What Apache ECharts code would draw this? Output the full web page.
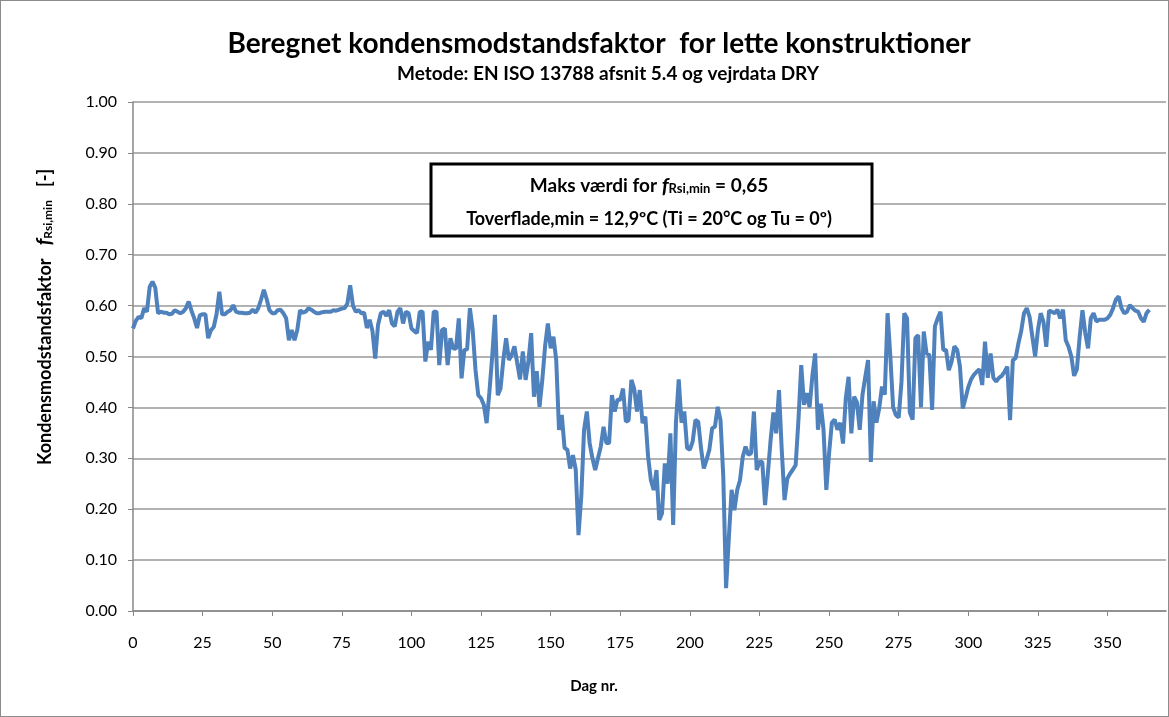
<!DOCTYPE html>
<html>
<head>
<meta charset="utf-8">
<script src="https://cdn.jsdelivr.net/npm/echarts@6/dist/echarts.min.js"></script>
<style>
  html, body { margin: 0; padding: 0; background: #fff; }
  #chart { width: 1167px; height: 715px; border: 1px solid #8c8c8c; }
</style>
</head>
<body>
<div id="chart"></div>
<script>
// daily values, day 0 .. 365
const values = [
  0.555, 0.57, 0.578, 0.575, 0.595, 0.588, 0.637, 0.647, 0.635, 0.585,
  0.588, 0.586, 0.586, 0.583, 0.584, 0.591, 0.588, 0.585, 0.588, 0.595,
  0.608, 0.59, 0.575, 0.556, 0.581, 0.583, 0.583, 0.536, 0.552, 0.558,
  0.583, 0.627, 0.583, 0.583, 0.588, 0.591, 0.601, 0.588, 0.586, 0.586,
  0.585, 0.585, 0.586, 0.592, 0.586, 0.595, 0.612, 0.631, 0.613, 0.591,
  0.585, 0.585, 0.591, 0.592, 0.585, 0.575, 0.532, 0.552, 0.532, 0.552,
  0.591, 0.586, 0.588, 0.595, 0.592, 0.588, 0.585, 0.585, 0.587, 0.588,
  0.588, 0.588, 0.591, 0.59, 0.592, 0.594, 0.595, 0.604, 0.64, 0.6,
  0.588, 0.591, 0.585, 0.586, 0.556, 0.572, 0.55, 0.496, 0.562, 0.585,
  0.588, 0.58, 0.591, 0.565, 0.559, 0.588, 0.595, 0.565, 0.588, 0.585,
  0.555, 0.55, 0.546, 0.588, 0.588, 0.49, 0.529, 0.513, 0.588, 0.588,
  0.483, 0.552, 0.555, 0.483, 0.536, 0.516, 0.515, 0.575, 0.457, 0.513,
  0.514, 0.595, 0.552, 0.474, 0.424, 0.418, 0.405, 0.369, 0.43, 0.5,
  0.582, 0.424, 0.437, 0.493, 0.536, 0.493, 0.503, 0.52, 0.487, 0.455,
  0.51, 0.454, 0.49, 0.546, 0.421, 0.471, 0.401, 0.454, 0.52, 0.565,
  0.516, 0.539, 0.493, 0.356, 0.385, 0.32, 0.317, 0.28, 0.306, 0.278,
  0.149, 0.225, 0.356, 0.392, 0.33, 0.3, 0.277, 0.3, 0.323, 0.362,
  0.33, 0.33, 0.424, 0.392, 0.415, 0.415, 0.437, 0.372, 0.375, 0.454,
  0.437, 0.392, 0.434, 0.369, 0.382, 0.303, 0.257, 0.238, 0.277, 0.179,
  0.192, 0.29, 0.25, 0.349, 0.169, 0.37, 0.455, 0.37, 0.392, 0.32,
  0.317, 0.333, 0.375, 0.372, 0.32, 0.28, 0.297, 0.317, 0.359, 0.362,
  0.401, 0.375, 0.264, 0.045, 0.144, 0.238, 0.198, 0.238, 0.257, 0.303,
  0.323, 0.307, 0.31, 0.392, 0.277, 0.293, 0.293, 0.208, 0.27, 0.336,
  0.39, 0.349, 0.434, 0.316, 0.218, 0.26, 0.27, 0.278, 0.287, 0.376,
  0.483, 0.405, 0.428, 0.4, 0.462, 0.506, 0.356, 0.407, 0.356, 0.238,
  0.31, 0.37, 0.376, 0.356, 0.37, 0.329, 0.418, 0.46, 0.349, 0.421,
  0.41, 0.356, 0.425, 0.46, 0.493, 0.293, 0.412, 0.37, 0.398, 0.441,
  0.425, 0.585, 0.5, 0.4, 0.385, 0.38, 0.45, 0.585, 0.575, 0.39,
  0.376, 0.536, 0.542, 0.4, 0.549, 0.506, 0.503, 0.395, 0.559, 0.575,
  0.588, 0.513, 0.513, 0.473, 0.49, 0.52, 0.513, 0.48, 0.398, 0.418,
  0.44, 0.455, 0.464, 0.47, 0.475, 0.444, 0.529, 0.458, 0.506, 0.458,
  0.451, 0.458, 0.462, 0.47, 0.48, 0.375, 0.493, 0.497, 0.526, 0.55,
  0.585, 0.595, 0.578, 0.539, 0.5, 0.552, 0.585, 0.568, 0.519, 0.59,
  0.588, 0.585, 0.592, 0.575, 0.592, 0.532, 0.519, 0.5, 0.462, 0.475,
  0.539, 0.591, 0.546, 0.516, 0.575, 0.585, 0.569, 0.572, 0.572, 0.572,
  0.575, 0.582, 0.595, 0.612, 0.618, 0.595, 0.585, 0.588, 0.601, 0.595,
  0.59, 0.588, 0.575, 0.568, 0.585, 0.592
]
const days = values.map((v, i) => i)

const titleText = "Beregnet kondensmodstandsfaktor  for lette konstruktioner"
const subtitleText = "Metode: EN ISO 13788 afsnit 5.4 og vejrdata DRY"
const xName = "Dag nr."
const boxLine1 = "{b|Maks værdi for }{f|f}{s|Rsi,min}{b| = 0,65}"
const boxLine2 = "Toverflade,min = 12,9ºC (Ti = 20°C og Tu = 0º)"
const yName = "{b|Kondensmodstandsfaktor   }{f|f}{s|Rsi,min}{b|   [-]}"

const font = "Lato, 'Open Sans', sans-serif"
const lineColor = "#4f81bd"

const chart = echarts.init(document.getElementById("chart"))

chart.setOption({
  animation: false,
  textStyle: {fontFamily: font},
  grid: {left: 132, right: 2, top: 101, bottom: 105},
  xAxis: {
    type: "value",
    min: 0,
    max: 371,
    interval: 25,
    axisLine: {lineStyle: {color: "#888", width: 1.5}},
    axisTick: {show: true, length: 5, lineStyle: {color: "#888"}},
    axisLabel: {color: "#000", fontSize: 16, margin: 24, showMaxLabel: false},
    splitLine: {show: false},
  },
  yAxis: {
    type: "value",
    min: 0,
    max: 1,
    interval: 0.1,
    axisLine: {show: true, lineStyle: {color: "#888", width: 1.5}},
    axisTick: {show: true, length: 5, lineStyle: {color: "#888"}},
    axisLabel: {color: "#000", fontSize: 16, margin: 16, formatter: v => v.toFixed(2)},
    splitLine: {lineStyle: {color: "#999", width: 1.5}},
  },
  graphic: [
    {
      type: "text",
      x: 598,
      y: 43,
      style: {text: titleText, font: "bold 28px " + font, fill: "#000", align: "center", verticalAlign: "middle"},
    },
    {
      type: "text",
      x: 607,
      y: 73,
      style: {text: subtitleText, font: "bold 19px " + font, fill: "#000", align: "center", verticalAlign: "middle"},
    },
    {
      type: "text",
      x: 593,
      y: 685,
      style: {text: xName, font: "bold 15px " + font, fill: "#000", align: "center", verticalAlign: "middle"},
    },
    {
      type: "text",
      x: 44,
      y: 316,
      rotation: Math.PI / 2,
      style: {
        text: yName,
        align: "center",
        verticalAlign: "middle",
        rich: {
          b: {fontFamily: font, fontWeight: "bold", fontSize: 18, fill: "#000"},
          f: {fontFamily: font, fontWeight: "bold", fontStyle: "italic", fontSize: 20, fill: "#000"},
          s: {fontFamily: font, fontWeight: "bold", fontSize: 12, fill: "#000", padding: [6, 0, 0, 0]},
        },
      },
    },
    {
      type: "rect",
      shape: {x: 430, y: 163, width: 441, height: 72},
      style: {fill: "#fff", stroke: "#000", lineWidth: 3},
      z: 10,
    },
    {
      type: "text",
      x: 648,
      y: 185,
      z: 11,
      style: {
        text: boxLine1,
        align: "center",
        verticalAlign: "middle",
        rich: {
          b: {fontFamily: font, fontWeight: "bold", fontSize: 19, fill: "#000"},
          f: {fontFamily: font, fontWeight: "bold", fontStyle: "italic", fontSize: 21, fill: "#000"},
          s: {fontFamily: font, fontWeight: "bold", fontSize: 13, fill: "#000", padding: [5, 0, 0, 0]},
        },
      },
    },
    {
      type: "text",
      x: 648,
      y: 218,
      z: 11,
      style: {
        text: boxLine2,
        align: "center",
        verticalAlign: "middle",
        font: "bold 18px " + font,
        fill: "#000",
      },
    },
  ],
  series: [
    {
      type: "line",
      data: days.map(d => [d, values[d]]),
      showSymbol: false,
      lineStyle: {color: lineColor, width: 4},
      z: 3,
    },
  ],
})
</script>
</body>
</html>
